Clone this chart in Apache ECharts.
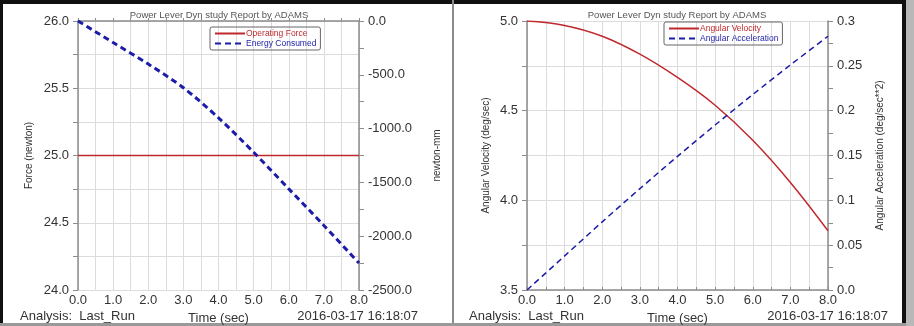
<!DOCTYPE html>
<html>
<head>
<meta charset="utf-8">
<script src="https://cdn.jsdelivr.net/npm/echarts@6/dist/echarts.min.js"></script>
<style>
  html, body { margin: 0; padding: 0; background: #fff; }
  #main { width: 914px; height: 326px; }
</style>
</head>
<body>
<div id="main"></div>
<script>
// time (sec)
var timeSec = [0, 1, 2, 3, 4, 5, 6, 7, 8];
// left panel
var operatingForce = [25.0, 25.0, 25.0, 25.0, 25.0, 25.0, 25.0, 25.0, 25.0];
var energyConsumed = [0, -200, -400, -620, -900, -1220, -1560, -1900, -2250];
// right panel
var angularVelocity = [5.0, 4.975, 4.915, 4.815, 4.685, 4.53, 4.335, 4.10, 3.83];
var angularAccel = [0, 0.038, 0.076, 0.113, 0.149, 0.184, 0.218, 0.251, 0.283];

var titleText = 'Power Lever Dyn study Report by ADAMS';
var font = 'Liberation Sans, Arial, sans-serif';
var labelColor = '#333';
var axisColor = '#8c8c8c';
var gridColor = '#dcdcdc';
var red = '#c0282d';
var blue = '#1c1ca8';

function pairs(ys) {
  return timeSec.map(function (t, i) { return [t, ys[i]]; });
}

function xAxisFor(gridIndex) {
  return {
    type: 'value', gridIndex: gridIndex, min: 0, max: 8, interval: 1,
    name: 'Time (sec)', nameLocation: 'middle', nameGap: 20,
    nameTextStyle: { color: labelColor, fontSize: 13, fontFamily: font },
    axisLine: { lineStyle: { color: axisColor, width: 1.5 } },
    axisTick: { inside: true, length: 3, lineStyle: { color: axisColor } },
    minorTick: { show: true, splitNumber: 2, length: 3, lineStyle: { color: axisColor } },
    axisLabel: { color: labelColor, fontSize: 13, fontFamily: font, margin: 4,
      formatter: function (v) { return v.toFixed(1); } },
    splitLine: { show: true, lineStyle: { color: gridColor } },
    minorSplitLine: { show: true, lineStyle: { color: gridColor } }
  };
}

function leftY(gridIndex, min, max, interval, name, gap, fmt) {
  return {
    type: 'value', gridIndex: gridIndex, position: 'left', min: min, max: max, interval: interval,
    name: name, nameLocation: 'middle', nameGap: gap, nameRotate: 90,
    nameTextStyle: { color: labelColor, fontSize: 10, fontFamily: font },
    axisLine: { show: true, lineStyle: { color: axisColor, width: 1.5 } },
    axisTick: { show: true, length: 5, lineStyle: { color: axisColor } },
    minorTick: { show: true, splitNumber: 2, length: 5, lineStyle: { color: axisColor } },
    axisLabel: { color: labelColor, fontSize: 13, fontFamily: font, margin: 9, formatter: fmt },
    splitLine: { show: true, lineStyle: { color: gridColor } },
    minorSplitLine: { show: true, lineStyle: { color: gridColor } }
  };
}

function rightY(gridIndex, min, max, interval, name, gap, fmt) {
  return {
    type: 'value', gridIndex: gridIndex, position: 'right', min: min, max: max, interval: interval,
    name: name, nameLocation: 'middle', nameGap: gap, nameRotate: 90,
    nameTextStyle: { color: labelColor, fontSize: 10, fontFamily: font },
    axisLine: { show: true, lineStyle: { color: axisColor, width: 1.5 } },
    axisTick: { show: true, length: 5, lineStyle: { color: axisColor } },
    minorTick: { show: true, splitNumber: 2, length: 5, lineStyle: { color: axisColor } },
    axisLabel: { color: labelColor, fontSize: 13, fontFamily: font, margin: 9, formatter: fmt },
    splitLine: { show: false }
  };
}

function oneDec(v) { return v.toFixed(1); }
function accelFmt(v) { return v === 0 ? '0.0' : String(Math.round(v * 100) / 100); }

function bottomText(x, text, align) {
  return {
    type: 'text', x: x, y: 310,
    style: { text: text, fill: labelColor, font: '13px ' + font, textAlign: align }
  };
}

var legendBase = {
  orient: 'vertical', itemGap: 1, itemWidth: 30, itemHeight: 8,
  padding: [2, 4, 2, 4], borderColor: '#666', borderWidth: 1, borderRadius: 2,
  itemStyle: { opacity: 0 },
  textStyle: { fontSize: 8.5, fontFamily: font, padding: [0, 0, 0, -4] }
};

var chart = echarts.init(document.getElementById('main'));
chart.setOption({
  backgroundColor: '#fff',
  animation: false,
  title: [
    { text: titleText, left: 214, top: 5, textAlign: 'center',
      textStyle: { fontSize: 9.5, fontWeight: 'normal', color: '#555', fontFamily: font } },
    { text: titleText, left: 672, top: 5, textAlign: 'center',
      textStyle: { fontSize: 9.5, fontWeight: 'normal', color: '#555', fontFamily: font } }
  ],
  legend: [
    echarts.util.extend({ left: 210, top: 27,
      data: [{ name: 'Operating Force', textStyle: { color: red } },
             { name: 'Energy Consumed', textStyle: { color: blue } }] }, legendBase),
    echarts.util.extend({ left: 664, top: 22,
      data: [{ name: 'Angular Velocity', textStyle: { color: red } },
             { name: 'Angular Acceleration', textStyle: { color: blue } }] }, legendBase)
  ],
  grid: [
    { left: 78, right: 555, top: 21, bottom: 36, outerBoundsMode: 'none' },
    { left: 527, right: 86, top: 21, bottom: 36, outerBoundsMode: 'none' }
  ],
  xAxis: [xAxisFor(0), xAxisFor(1)],
  yAxis: [
    leftY(0, 24, 26, 0.5, 'Force (newton)', 44, oneDec),
    rightY(0, -2500, 0, 500, 'newton-mm', 73, oneDec),
    leftY(1, 3.5, 5.0, 0.5, 'Angular Velocity (deg/sec)', 36, oneDec),
    rightY(1, 0, 0.3, 0.05, 'Angular Acceleration (deg/sec**2)', 47, accelFmt)
  ],
  series: [
    { name: 'Operating Force', type: 'line', xAxisIndex: 0, yAxisIndex: 0,
      data: pairs(operatingForce), symbol: 'none', color: red,
      lineStyle: { color: red, width: 1.5 } },
    { name: 'Energy Consumed', type: 'line', xAxisIndex: 0, yAxisIndex: 1,
      data: pairs(energyConsumed), symbol: 'none', smooth: 0.3, color: blue,
      lineStyle: { color: blue, width: 3, type: [6, 4] } },
    { name: 'Angular Velocity', type: 'line', xAxisIndex: 1, yAxisIndex: 2,
      data: pairs(angularVelocity), symbol: 'none', smooth: 0.4, color: red,
      lineStyle: { color: red, width: 1.5 } },
    { name: 'Angular Acceleration', type: 'line', xAxisIndex: 1, yAxisIndex: 3,
      data: pairs(angularAccel), symbol: 'none', smooth: 0.3, color: blue,
      lineStyle: { color: blue, width: 1.5, type: [6, 4] } }
  ],
  graphic: [
    { type: 'rect', shape: { x: 0, y: 0, width: 906, height: 4 }, style: { fill: '#111' }, silent: true },
    { type: 'rect', shape: { x: 0, y: 0, width: 3, height: 326 }, style: { fill: '#111' }, silent: true },
    { type: 'rect', shape: { x: 902, y: 0, width: 4, height: 326 }, style: { fill: '#111' }, silent: true },
    { type: 'rect', shape: { x: 906, y: 0, width: 8, height: 326 }, style: { fill: '#b8b8b8' }, silent: true },
    { type: 'rect', shape: { x: 452, y: 0, width: 2, height: 326 }, style: { fill: '#8a8a8a' }, silent: true },
    { type: 'rect', shape: { x: 0, y: 323, width: 906, height: 3 }, style: { fill: '#999' }, silent: true },
    bottomText(20, 'Analysis:  Last_Run', 'left'),
    bottomText(418, '2016-03-17 16:18:07', 'right'),
    bottomText(469, 'Analysis:  Last_Run', 'left'),
    bottomText(888, '2016-03-17 16:18:07', 'right')
  ]
});
</script>
</body>
</html>
